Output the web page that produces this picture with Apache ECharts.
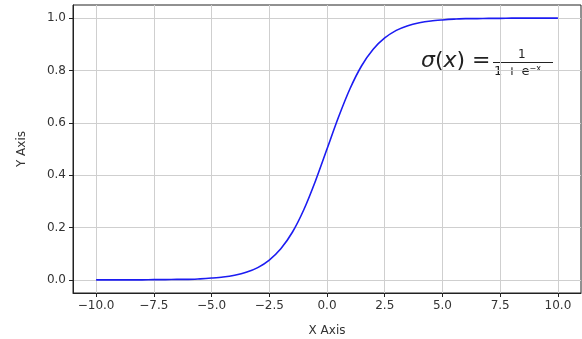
<!DOCTYPE html>
<html>
<head>
<meta charset="utf-8">
<script src="https://cdn.jsdelivr.net/npm/echarts@6/dist/echarts.min.js"></script>
<style>
html,body{margin:0;padding:0;background:#fff;}
#chart{width:582px;height:339px;}
</style>
</head>
<body>
<div id="chart"></div>
<script>
// Values
var xValues = [-10,-9.5,-9,-8.5,-8,-7.5,-7,-6.5,-6,-5.5,-5,-4.5,-4,-3.5,-3,-2.5,-2,-1.5,-1,-0.5,0,0.5,1,1.5,2,2.5,3,3.5,4,4.5,5,5.5,6,6.5,7,7.5,8,8.5,9,9.5,10];
var yValues = [0.000,0.000,0.000,0.000,0.000,0.001,0.001,0.002,0.002,0.004,0.007,0.011,0.018,0.029,0.047,0.076,0.119,0.182,0.269,0.378,0.500,0.622,0.731,0.818,0.881,0.924,0.953,0.971,0.982,0.989,0.993,0.996,0.998,0.998,0.999,0.999,1.000,1.000,1.000,1.000,1.000];
var xTicks = [-10,-7.5,-5,-2.5,0,2.5,5,7.5,10];
var yTicks = [0,0.2,0.4,0.6,0.8,1.0];

var data = xValues.map(function(x,i){return [x,yValues[i]];});
function fmt(v){ return (v<0?'\u2212':'') + Math.abs(v).toFixed(1); }
var font = 'DejaVu Sans';
var chart = echarts.init(document.getElementById('chart'));
chart.setOption({
  animation:false,
  backgroundColor:'#fff',
  grid:{left:73,right:1,top:5,bottom:46,show:true,borderColor:'#222',borderWidth:1,backgroundColor:'transparent',containLabel:false,outerBoundsMode:'none'},
  xAxis:{
    type:'value',min:-11,max:11,
    name:'X Axis',nameLocation:'middle',nameGap:32,
    nameTextStyle:{fontFamily:font,fontSize:12,color:'#333'},
    axisLine:{show:true,onZero:false,lineStyle:{color:'#222'}},
    axisTick:{show:true,length:4,customValues:xTicks,lineStyle:{color:'#222'}},
    axisLabel:{customValues:xTicks,formatter:fmt,fontFamily:font,fontSize:12,color:'#333',margin:7},
    splitLine:{show:true,lineStyle:{color:'#cfcfcf',width:1}}
  },
  yAxis:{
    type:'value',min:-0.05,max:1.05,
    name:'Y Axis',nameLocation:'middle',nameGap:45,nameRotate:90,
    nameTextStyle:{fontFamily:font,fontSize:12,color:'#333'},
    axisLine:{show:true,onZero:false,lineStyle:{color:'#222'}},
    axisTick:{show:true,length:4,customValues:yTicks,lineStyle:{color:'#222'}},
    axisLabel:{customValues:yTicks,formatter:function(v){return v.toFixed(1);},fontFamily:font,fontSize:12,color:'#333',margin:7},
    splitLine:{show:true,lineStyle:{color:'#cfcfcf',width:1}}
  },
  series:[{
    type:'line',data:data,smooth:0.3,showSymbol:false,
    lineStyle:{color:'#1c1cf2',width:1.6}
  }],
  graphic:[
    {type:'text',left:421,top:50,style:{text:'{i|σ}{u|(}{i|x}{u|) =}',rich:{i:{fontFamily:font,fontStyle:'italic',fontSize:22,fill:'#222'},u:{fontFamily:font,fontSize:22,fill:'#222'}}}},
    {type:'text',left:518,top:49,style:{text:'1',fontFamily:font,fontSize:12,fill:'#222'}},
    {type:'line',shape:{x1:493,y1:62.5,x2:553,y2:62.5},style:{stroke:'#222',lineWidth:1}},
    {type:'text',left:494,top:65,style:{rich:{n:{fontFamily:font,fontSize:13,fill:'#222'},s:{fontFamily:font,fontSize:8,fill:'#222',verticalAlign:'top',lineHeight:10}},text:'{n|1 + e}{s|\u2212x}'}}
  ]
});
</script>
</body>
</html>
